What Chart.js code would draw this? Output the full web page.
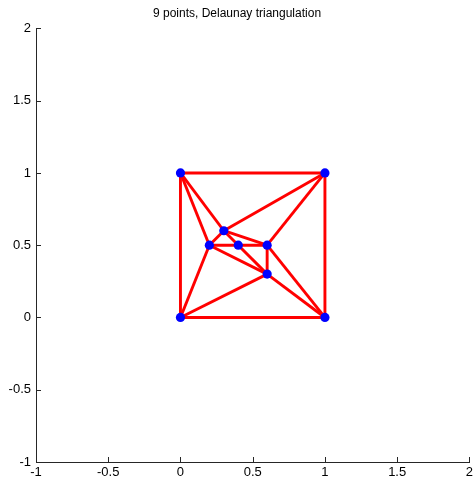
<!DOCTYPE html>
<html>
<head>
<meta charset="utf-8">
<script src="https://cdn.jsdelivr.net/npm/chart.js@4/dist/chart.umd.min.js"></script>
<style>
  html, body { margin: 0; padding: 0; background: #fff; }
  #wrap { width: 474px; height: 477px; }
</style>
</head>
<body>
<div id="wrap"><canvas id="chart"></canvas></div>
<script>
// 9 points and the triangles between them (indices into the point arrays)
const pointsX = [0, 1, 0, 1, 0.3, 0.2, 0.4, 0.6, 0.6];
const pointsY = [0, 0, 1, 1, 0.6, 0.5, 0.5, 0.5, 0.3];
const triangles = [
    [0, 1, 8], [0, 8, 5], [0, 5, 2], [2, 5, 4],
    [2, 4, 3], [3, 4, 7], [4, 6, 7], [4, 5, 6],
    [5, 6, 8], [6, 7, 8], [7, 8, 1], [3, 7, 1]
];
const xTicks = [-1, -0.5, 0, 0.5, 1, 1.5, 2];
const yTicks = [-1, -0.5, 0, 0.5, 1, 1.5, 2];

// unique edges from triangles
const edges = [];
const seen = new Set();
triangles.forEach(t => {
    [[t[0], t[1]], [t[1], t[2]], [t[2], t[0]]].forEach(([a, b]) => {
        const key = Math.min(a, b) + '-' + Math.max(a, b);
        if (!seen.has(key)) { seen.add(key); edges.push([a, b]); }
    });
});

const edgeSets = edges.map(([a, b]) => ({
    data: [{ x: pointsX[a], y: pointsY[a] }, { x: pointsX[b], y: pointsY[b] }],
    showLine: true,
    borderColor: '#ff0000',
    borderWidth: 2.9,
    pointRadius: 0,
    order: 1
}));

const pointSet = {
    data: pointsX.map((x, i) => ({ x: x, y: pointsY[i] })),
    backgroundColor: '#0000ff',
    borderColor: '#0000ff',
    pointRadius: 4.6,
    borderWidth: 0,
    order: 0
};

// MATLAB-style inward tick marks
const innerTicks = {
    id: 'innerTicks',
    afterDraw(chart) {
        const ctx = chart.ctx;
        const xs = chart.scales.x, ys = chart.scales.y;
        const area = chart.chartArea;
        ctx.save();
        ctx.strokeStyle = '#262626';
        ctx.lineWidth = 1;
        ctx.beginPath();
        xTicks.forEach(v => {
            const px = Math.round(xs.getPixelForValue(v)) + 0.5;
            ctx.moveTo(px, area.bottom);
            ctx.lineTo(px, area.bottom - 5);
        });
        yTicks.forEach(v => {
            const py = Math.round(ys.getPixelForValue(v)) + 0.5;
            ctx.moveTo(area.left, py);
            ctx.lineTo(area.left + 5, py);
        });
        ctx.stroke();
        ctx.restore();
    }
};

const tickFont = { family: 'Liberation Sans, Arial, sans-serif', size: 13 };
const fmt = v => String(v);

new Chart(document.getElementById('chart'), {
    type: 'scatter',
    data: { datasets: [...edgeSets, pointSet] },
    options: {
        responsive: true,
        maintainAspectRatio: false,
        animation: false,
        layout: { padding: { left: 0, right: 0, top: 0, bottom: 0 } },
        scales: {
            x: {
                type: 'linear', min: -1, max: 2,
                afterBuildTicks: s => { s.ticks = xTicks.map(v => ({ value: v })); },
                afterFit: s => { s.height = 15; s.paddingRight = 0; s.paddingLeft = 0; },
                grid: { display: false, drawTicks: false },
                border: { display: true, color: '#262626', width: 1 },
                ticks: { color: '#000', font: tickFont, padding: 3, maxRotation: 0, callback: fmt }
            },
            y: {
                type: 'linear', min: -1, max: 2,
                afterBuildTicks: s => { s.ticks = yTicks.map(v => ({ value: v })); },
                afterFit: s => { s.width = 36; },
                grid: { display: false, drawTicks: false },
                border: { display: true, color: '#262626', width: 1 },
                ticks: { color: '#000', font: tickFont, padding: 5, callback: fmt }
            }
        },
        plugins: {
            legend: { display: false },
            tooltip: { enabled: false },
            title: {
                display: true,
                text: '9 points, Delaunay triangulation',
                color: '#000',
                font: { family: 'Liberation Sans, Arial, sans-serif', size: 12, weight: 'normal' },
                padding: { top: 6, bottom: 8 }
            }
        }
    },
    plugins: [innerTicks]
});
</script>
</body>
</html>
